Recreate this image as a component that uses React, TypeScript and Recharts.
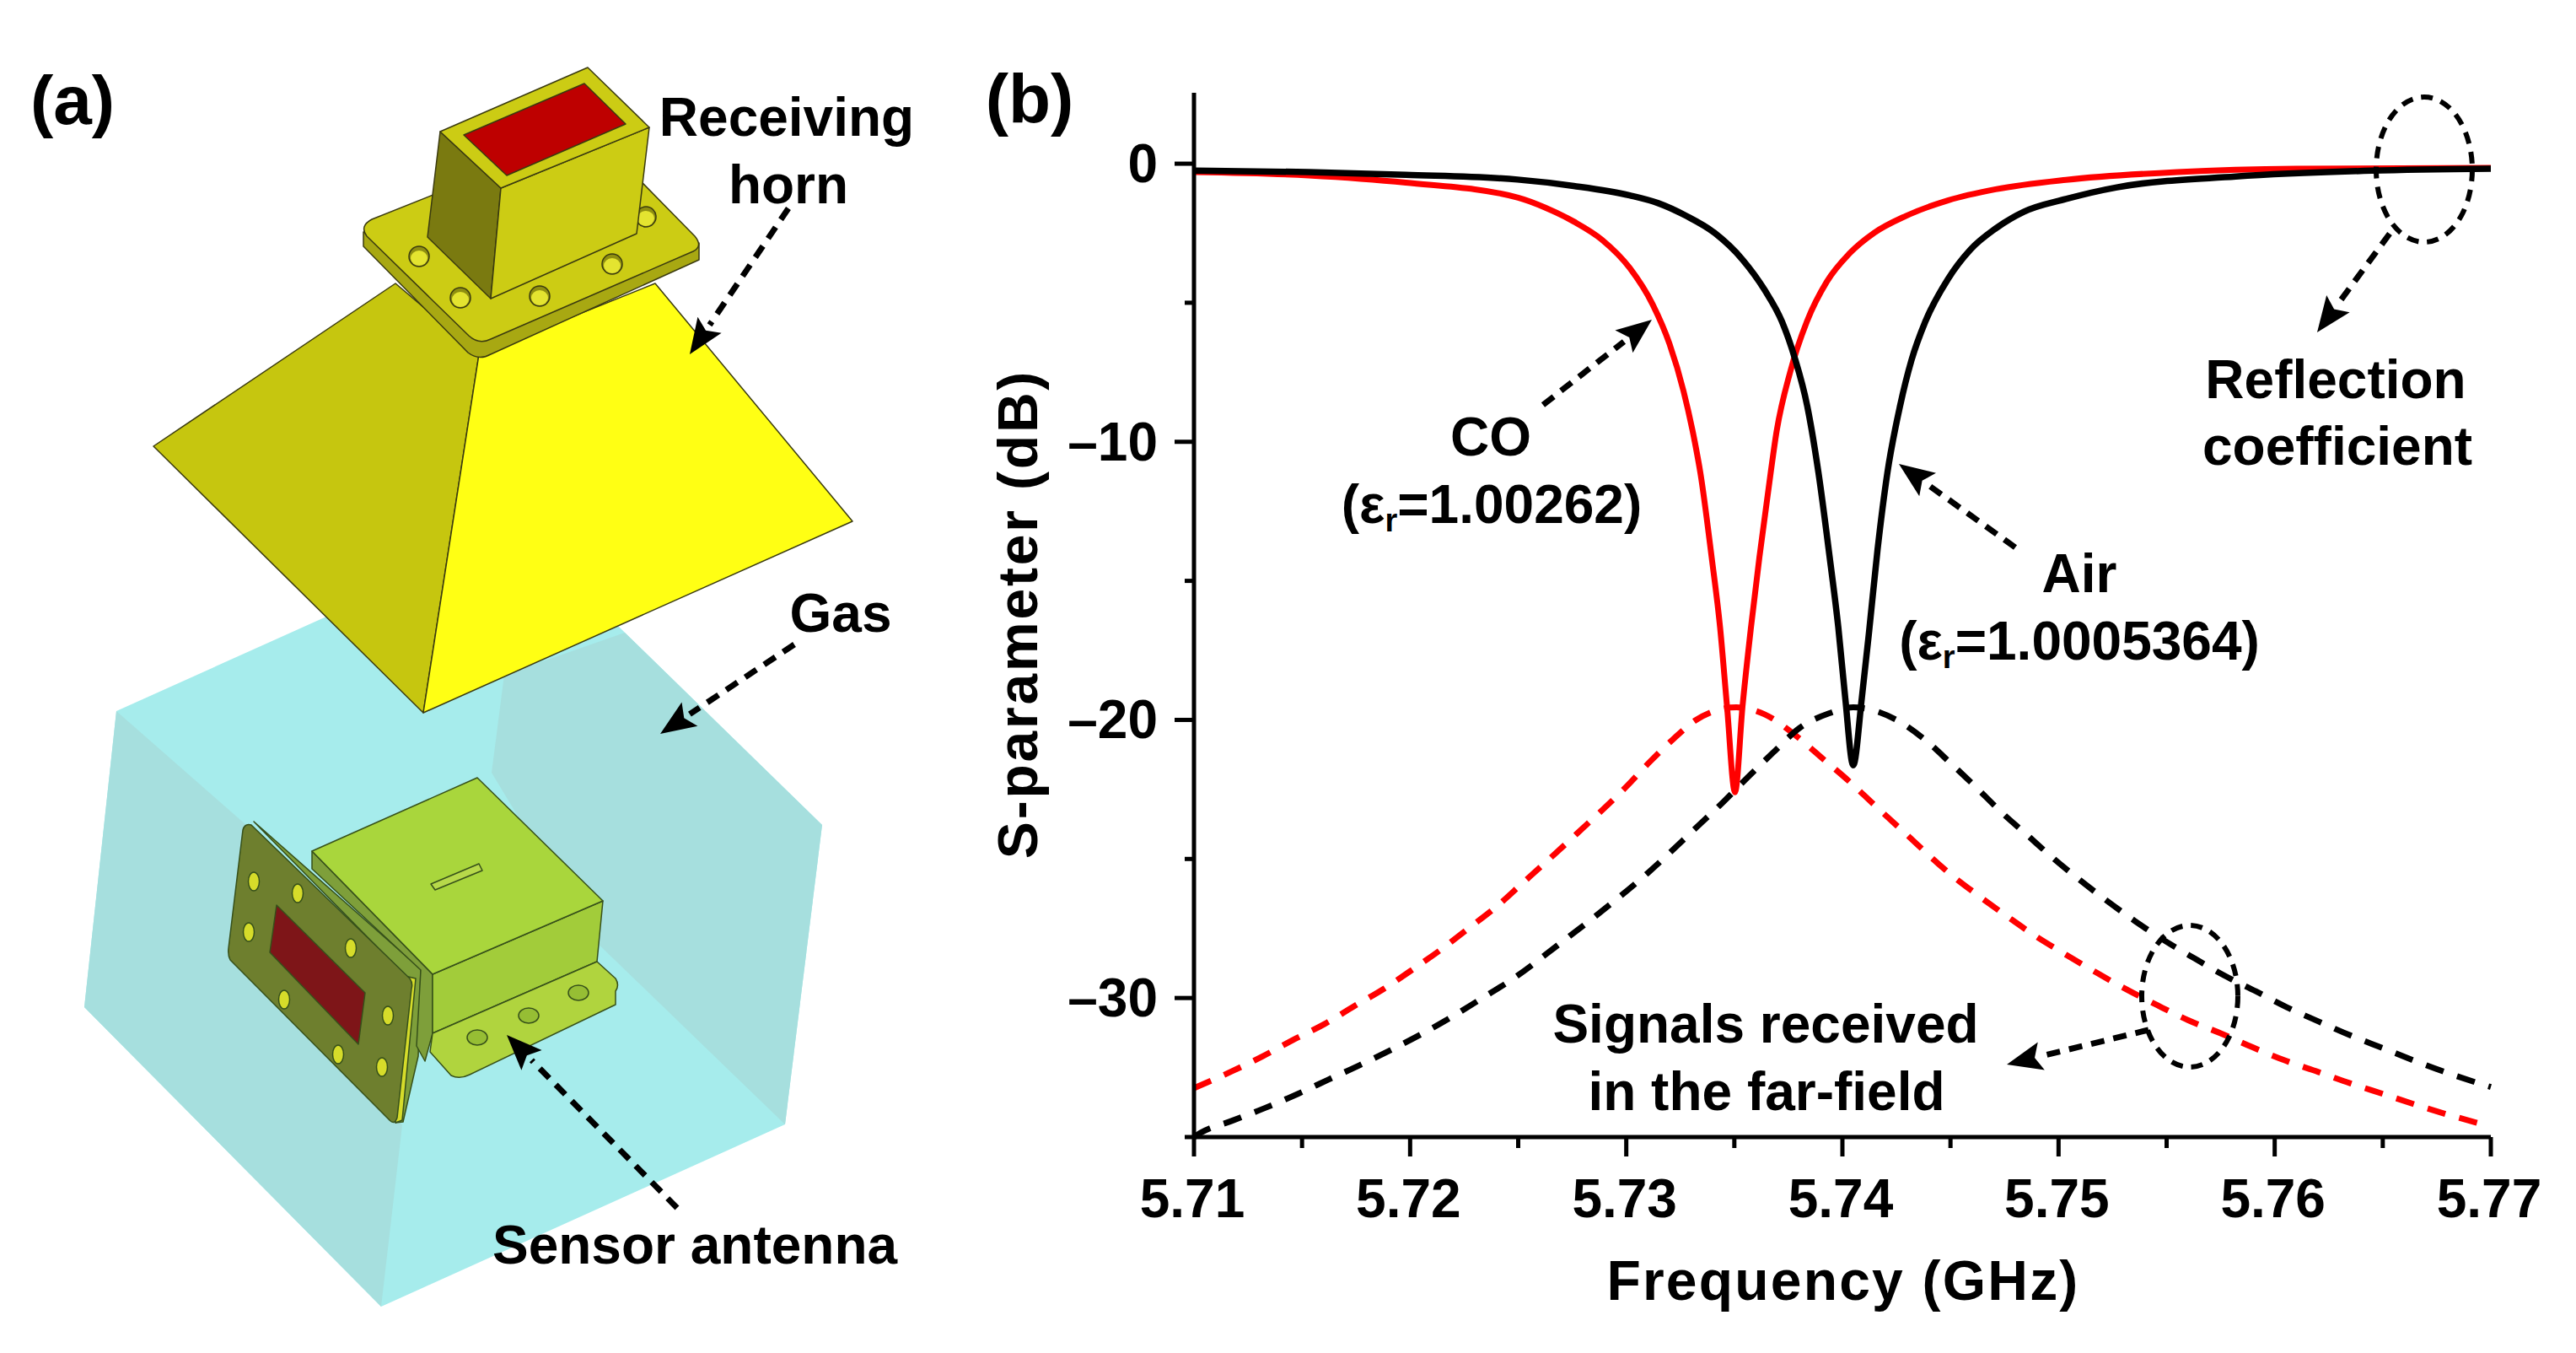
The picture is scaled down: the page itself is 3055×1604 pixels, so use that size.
import { LineChart, Line, XAxis, YAxis } from "recharts";

const W = 3055;
const H = 1604;
const FONT = "'Liberation Sans', Arial, sans-serif";

// values
const xTicks = [5.71, 5.715, 5.72, 5.725, 5.73, 5.735, 5.74, 5.745, 5.75, 5.755, 5.76, 5.765, 5.77];
const xLabelled = [5.71, 5.72, 5.73, 5.74, 5.75, 5.76, 5.77];
const yTicks = [-35, -30, -25, -20, -15, -10, -5, 0];
const yLabelled = [-30, -20, -10, 0];

const coFreq = [5.71, 5.7153, 5.7198, 5.725, 5.72626, 5.72757, 5.72887, 5.73016, 5.73122, 5.732, 5.73265, 5.73317, 5.73343, 5.73395, 5.73434, 5.73466, 5.73503, 5.73538, 5.73577, 5.73616, 5.73668, 5.73694, 5.73758, 5.73836, 5.73928, 5.74031, 5.74148, 5.74293, 5.74488, 5.74709, 5.75034, 5.7555, 5.761, 5.77];
const coS11 = [-0.3, -0.42, -0.68, -1.22, -1.58, -2.08, -2.73, -3.75, -5.06, -6.48, -8.18, -10, -11.12, -14.15, -16.67, -19.5, -22.6, -19.5, -16.67, -14.15, -11.12, -9.7, -7.5, -5.67, -4.24, -3.24, -2.48, -1.88, -1.32, -0.92, -0.58, -0.3, -0.18, -0.15];

const airFreq = [5.71, 5.7153, 5.7198, 5.72497, 5.72757, 5.73016, 5.73148, 5.73278, 5.73407, 5.73538, 5.73641, 5.7372, 5.73779, 5.73837, 5.73889, 5.73941, 5.73981, 5.74013, 5.7405, 5.7409, 5.74124, 5.74163, 5.74208, 5.74267, 5.74319, 5.74384, 5.74488, 5.74592, 5.74709, 5.74839, 5.75034, 5.7527, 5.7582, 5.7645, 5.77];
const airS11 = [-0.25, -0.3, -0.4, -0.57, -0.8, -1.14, -1.42, -1.88, -2.48, -3.45, -4.55, -5.67, -6.97, -8.7, -11.1, -14.15, -16.67, -19.2, -21.63, -19.2, -16.78, -13.85, -11.12, -8.7, -7.08, -5.67, -4.15, -3.09, -2.33, -1.73, -1.27, -0.85, -0.46, -0.25, -0.18];

const coFarFreq = [5.71, 5.71174, 5.71317, 5.7146, 5.71603, 5.7174, 5.7188, 5.72016, 5.72146, 5.72273, 5.72397, 5.7252, 5.7277, 5.73, 5.7311, 5.7322, 5.73323, 5.7342, 5.7351, 5.7364, 5.7379, 5.7391, 5.7403, 5.7414, 5.7428, 5.74508, 5.74635, 5.74765, 5.74897, 5.75034, 5.75174, 5.75314, 5.75457, 5.756, 5.7575, 5.759, 5.76049, 5.76202, 5.76351, 5.76505, 5.76657, 5.76813, 5.76967, 5.77];
const coFar = [-33.24, -32.64, -32.1, -31.5, -30.94, -30.3, -29.66, -28.95, -28.24, -27.48, -26.73, -25.87, -24.1, -22.4, -21.5, -20.67, -20, -19.65, -19.55, -19.8, -20.6, -21.4, -22.2, -23, -24, -25.6, -26.35, -27.08, -27.79, -28.44, -29.08, -29.69, -30.26, -30.8, -31.27, -31.78, -32.25, -32.66, -33.07, -33.46, -33.85, -34.22, -34.55, -34.62];

const airFarFreq = [5.71, 5.7103, 5.71174, 5.7133, 5.71477, 5.7162, 5.71768, 5.71915, 5.72059, 5.72195, 5.72328, 5.72468, 5.727, 5.7285, 5.731, 5.7332, 5.7345, 5.7356, 5.7368, 5.738, 5.7394, 5.7405, 5.7425, 5.7438, 5.745, 5.74617, 5.74733, 5.74852, 5.74973, 5.75096, 5.75223, 5.75353, 5.75483, 5.7563, 5.75769, 5.75913, 5.76056, 5.76202, 5.76349, 5.76499, 5.76648, 5.76798, 5.76954, 5.77];
const airFar = [-35, -34.85, -34.42, -33.95, -33.46, -32.94, -32.41, -31.85, -31.27, -30.67, -30.03, -29.35, -28, -27.1, -25.5, -23.9, -22.94, -22.08, -21.17, -20.3, -19.76, -19.55, -20, -20.7, -21.55, -22.41, -23.3, -24.12, -24.96, -25.74, -26.5, -27.23, -27.9, -28.58, -29.2, -29.76, -30.33, -30.84, -31.34, -31.8, -32.26, -32.69, -33.09, -33.2];

const toRows = (freq: number[], s: number[]) => freq.map((f, i) => ({ f, s: s[i] }));

const XTick = ({ x, y, payload }: any) => {
  const major = xLabelled.includes(payload.value);
  return (
    <g>
      <line x1={x} x2={x} y1={y} y2={y + (major ? 23 : 13)} stroke="#000" strokeWidth={5} />
      {major && (
        <text x={x - 2} y={1443} textAnchor="middle" fontFamily={FONT} fontWeight="bold" fontSize={64} fill="#000">
          {payload.value.toFixed(2)}
        </text>
      )}
    </g>
  );
};

const YTick = ({ x, y, payload }: any) => {
  const major = yLabelled.includes(payload.value);
  return (
    <g>
      <line x1={x} x2={x - (major ? 23 : 11)} y1={y} y2={y} stroke="#000" strokeWidth={5} />
      {major && (
        <text x={1373} y={y + 22} textAnchor="end" fontFamily={FONT} fontWeight="bold" fontSize={64} fill="#000">
          {payload.value < 0 ? "\u2013" + Math.abs(payload.value) : payload.value}
        </text>
      )}
    </g>
  );
};

const XTitle = () => (
  <text x={2186} y={1541} textAnchor="middle" fontFamily={FONT} fontWeight="bold" fontSize={66} letterSpacing={2.2} fill="#000">
    Frequency (GHz)
  </text>
);

const YTitle = () => (
  <text
    transform="translate(1230,728) rotate(-90)"
    textAnchor="middle"
    fontFamily={FONT}
    fontWeight="bold"
    fontSize={66}
    letterSpacing={2.8}
    fill="#000"
  >
    S-parameter (dB)
  </text>
);

const Arrow = ({ x1, y1, x2, y2 }: { x1: number; y1: number; x2: number; y2: number }) => {
  const len = Math.hypot(x2 - x1, y2 - y1);
  const ux = (x2 - x1) / len;
  const uy = (y2 - y1) / len;
  const bx = x2 - ux * 42;
  const by = y2 - uy * 42;
  const nx = -uy * 17;
  const ny = ux * 17;
  return (
    <g>
      <line x1={x1} y1={y1} x2={bx} y2={by} stroke="#000" strokeWidth={7} strokeDasharray="16 11" />
      <polygon points={`${x2},${y2} ${bx + nx},${by + ny} ${bx + ux * 8},${by + uy * 8} ${bx - nx},${by - ny}`} fill="#000" />
    </g>
  );
};

const Label = ({ x, y, size = 64, children }: any) => (
  <text x={x} y={y} textAnchor="middle" fontFamily={FONT} fontWeight="bold" fontSize={size} fill="#000">
    {children}
  </text>
);

const Epsilon = ({ value }: { value: string }) => (
  <>
    (ε
    <tspan fontSize={38} dy={10}>
      r
    </tspan>
    <tspan dy={-10}>={value})</tspan>
  </>
);

const edge = { stroke: "#3a3a10", strokeWidth: 1.5, strokeLinejoin: "round" as const };
const greenEdge = { stroke: "#36501a", strokeWidth: 1.5, strokeLinejoin: "round" as const };

const flangeBolts = [[497, 304], [546, 353], [640, 351], [726, 313], [766, 257]];
const plateHoles = [[301, 1045], [353, 1059], [295, 1105], [416, 1124], [337, 1185], [460, 1204], [401, 1250], [453, 1265]];
const footHoles = [[566, 1230], [627, 1204], [686, 1177]];

// panel (a): the gas box, the horn and the sensor antenna
const Illustration = () => (
  <g>
    <polygon points="138,843 616,628 975,978 931,1333 452,1549 100,1194" fill="#A6ECEC" />
    <polygon points="598,800 741,750 975,978 931,1333 700,1110 583,916" fill="#A6DFDE" />
    <polygon points="138,843 300,985 477,1334 452,1549 100,1194" fill="#A6DFDE" />

    <polygon points="182,529 469,336 568,420 502,845" fill="#C6C60F" {...edge} />
    <polygon points="568,420 777,336 1011,618 502,845" fill="#FFFF14" {...edge} />

    <path d="M431,275 L431,292 L555,418 Q568,428 582,420 L829,308 L829,288 Z" fill="#A8A812" {...edge} />
    <path d="M441,260 L692,160 Q701,156 709,163 L824,280 Q834,292 822,298 L582,402 Q568,409 556,398 L435,280 Q426,268 441,260 Z" fill="#CCCC14" {...edge} />
    {flangeBolts.map(([cx, cy]) => (
      <g key={cx}>
        <ellipse cx={cx} cy={cy} rx={12} ry={12} fill="#8F8F10" {...edge} />
        <ellipse cx={cx} cy={cy + 2} rx={10} ry={9} fill="#E4E430" />
      </g>
    ))}

    <polygon points="522,156 594,223 582,354 507,281" fill="#7A7A10" {...edge} />
    <polygon points="594,223 770,151 755,277 582,354" fill="#CCCC14" {...edge} />
    <polygon points="522,156 697,80 770,151 594,223" fill="#CCCC14" {...edge} />
    <polygon points="550,160 693,99 742,147 601,208" fill="#BE0000" {...edge} />

    <polygon points="301,974 499,1149 496,1252 478,1330 469,1331 490,1166" fill="#7E9F3A" {...greenEdge} />
    <polygon points="480,1157 493,1160 477,1328 469,1331" fill="#D6DC2A" {...greenEdge} />
    <path d="M298,978 L486,1160 Q490,1166 488,1172 L471,1325 Q468,1334 462,1328 L273,1138 Q270,1132 271,1124 L288,984 Q290,976 298,978 Z" fill="#6E7F2E" {...greenEdge} />
    <polygon points="328,1073 433,1177 425,1238 320,1129" fill="#7E1518" {...greenEdge} />
    {plateHoles.map(([cx, cy]) => (
      <ellipse key={`${cx}-${cy}`} cx={cx} cy={cy} rx={6.5} ry={11} fill="#D6DC2A" {...greenEdge} />
    ))}

    <polygon points="370,1009 513,1155 513,1225 504,1258 494,1240 499,1150 370,1030" fill="#7E9F3A" {...greenEdge} />
    <polygon points="513,1155 715,1068 708,1140 513,1225" fill="#A2CC3A" {...greenEdge} />
    <polygon points="370,1009 566,922 715,1068 513,1155" fill="#A9D63C" {...greenEdge} />
    <polygon points="511,1048 568,1024 572,1032 516,1055" fill="#B7D94A" {...greenEdge} />
    <path d="M513,1225 L708,1140 L730,1160 Q735,1168 730,1175 L730,1191 L557,1274 Q545,1280 535,1275 L510,1247 Z" fill="#B0D43E" {...greenEdge} />
    {footHoles.map(([cx, cy]) => (
      <ellipse key={cx} cx={cx} cy={cy} rx={12} ry={9} fill="#96BE34" {...greenEdge} />
    ))}

    <Label x={86} y={147} size={82}>(a)</Label>
    <Label x={933} y={161}>Receiving</Label>
    <Label x={935} y={241}>horn</Label>
    <Label x={997} y={749}>Gas</Label>
    <Label x={824} y={1498}>Sensor antenna</Label>
    <Arrow x1={935} y1={247} x2={818} y2={420} />
    <Arrow x1={942} y1={764} x2={783} y2={870} />
    <Arrow x1={803} y1={1432} x2={601} y2={1227} />
  </g>
);

const ChartNotes = () => (
  <g>
    <Label x={1221} y={145} size={82}>(b)</Label>
    <Label x={1768} y={540}>CO</Label>
    <Label x={1769} y={620}><Epsilon value="1.00262" /></Label>
    <Label x={2466} y={702}>Air</Label>
    <Label x={2466} y={782}><Epsilon value="1.0005364" /></Label>
    <Label x={2770} y={472}>Reflection</Label>
    <Label x={2772} y={551}>coefficient</Label>
    <Label x={2094} y={1236}>Signals received</Label>
    <Label x={2095} y={1316}>in the far-field</Label>
    <Arrow x1={1830} y1={480} x2={1959} y2={379} />
    <Arrow x1={2390} y1={649} x2={2252} y2={550} />
    <Arrow x1={2834} y1={277} x2={2748} y2={394} />
    <Arrow x1={2548} y1={1221} x2={2380} y2={1262} />
    <ellipse cx={2875} cy={201} rx={57} ry={86} fill="none" stroke="#000" strokeWidth={6} strokeDasharray="14 10" />
    <ellipse cx={2597} cy={1181} rx={57} ry={84} fill="none" stroke="#000" strokeWidth={6} strokeDasharray="14 10" />
  </g>
);

export default function App() {
  return (
    <div style={{ position: "absolute", left: 0, top: 0, width: W, height: H, background: "#fff" }}>
      <LineChart width={W} height={H} margin={{ left: 0, right: 101, top: 110, bottom: 0 }}>
        <XAxis
          dataKey="f"
          type="number"
          domain={[5.71, 5.77]}
          ticks={xTicks}
          interval={0}
          height={256}
          tickSize={0}
          tickMargin={0}
          tickLine={false}
          tick={<XTick />}
          axisLine={{ stroke: "#000", strokeWidth: 5 }}
          label={<XTitle />}
          allowDuplicatedCategory={false}
        />
        <YAxis
          dataKey="s"
          type="number"
          domain={[-35, 2.55]}
          ticks={yTicks}
          interval={0}
          width={1416}
          tickSize={0}
          tickMargin={0}
          tickLine={false}
          tick={<YTick />}
          axisLine={{ stroke: "#000", strokeWidth: 5 }}
          label={<YTitle />}
        />
        <Line data={toRows(coFarFreq, coFar)} dataKey="s" type="monotone" stroke="#FF0000" strokeWidth={7} strokeDasharray="22 17" dot={false} isAnimationActive={false} />
        <Line data={toRows(airFarFreq, airFar)} dataKey="s" type="monotone" stroke="#000" strokeWidth={7} strokeDasharray="22 17" dot={false} isAnimationActive={false} />
        <Line data={toRows(coFreq, coS11)} dataKey="s" type="monotone" stroke="#FF0000" strokeWidth={7} dot={false} isAnimationActive={false} />
        <Line data={toRows(airFreq, airS11)} dataKey="s" type="monotone" stroke="#000" strokeWidth={7.5} dot={false} isAnimationActive={false} />
      </LineChart>
      <svg width={W} height={H} style={{ position: "absolute", left: 0, top: 0, pointerEvents: "none" }}>
        <Illustration />
        <ChartNotes />
      </svg>
    </div>
  );
}
